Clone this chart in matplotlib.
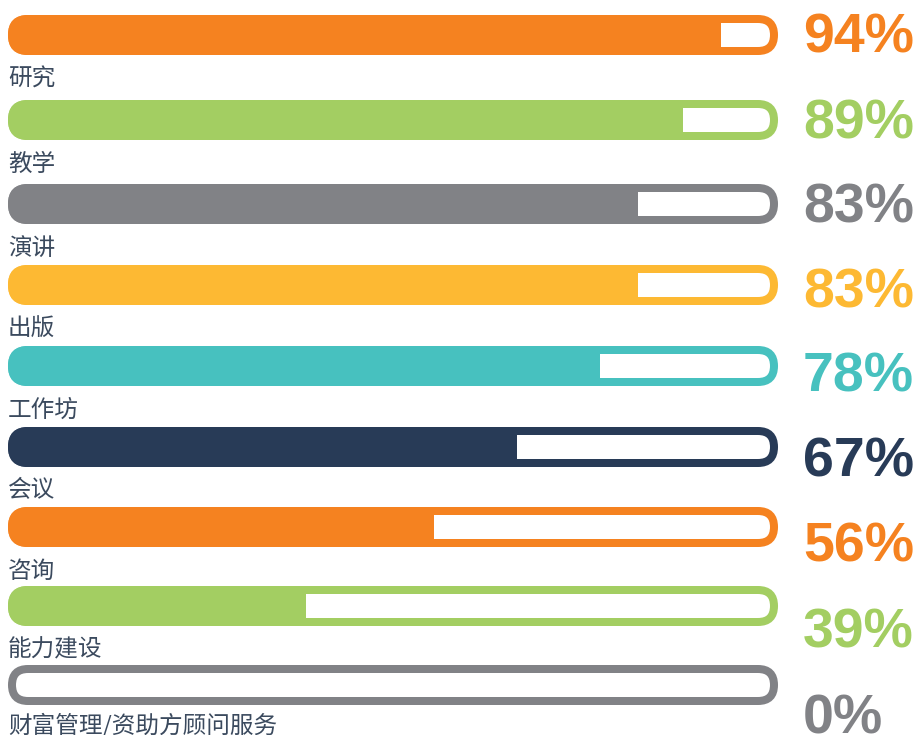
import matplotlib
matplotlib.use('Agg')
import matplotlib.pyplot as plt
from matplotlib.patches import FancyBboxPatch, Rectangle

plt.rcParams['font.family'] = ['Noto Sans CJK SC', 'DejaVu Sans']

# Share of respondents per activity
categories = ['研究', '教学', '演讲', '出版', '工作坊', '会议', '咨询', '能力建设', '财富管理/资助方顾问服务']
values = [94, 89, 83, 83, 78, 67, 56, 39, 0]
colors = ['#F58220', '#A3CE62', '#818286', '#FDB933', '#47C1BF',
          '#283B57', '#F58220', '#A3CE62', '#818286']

# layout in pixels (figure is 915 x 735 at 100 dpi)
W, H = 915, 735
bar_left, bar_right = 8, 778
bar_h = 40
stroke = 8
scale_left, scale_width = 12, 754
row_centers = [35, 120, 204, 285, 366, 447, 527, 606, 685]
pct_shift = [3, 4, 4, 8, 11, 15, 21, 27, 34]
label_shift = [44, 44, 44, 44, 44, 44, 44, 44, 40]

fig = plt.figure(figsize=(W / 100, H / 100), dpi=100)
ax = fig.add_axes([0, 0, 1, 1])
ax.set_xlim(0, W)
ax.set_ylim(H, 0)
ax.axis('off')

for i, (cat, val, col) in enumerate(zip(categories, values, colors)):
    yc = row_centers[i]
    top = yc - bar_h / 2

    # outlined track
    inset = stroke / 2
    track = FancyBboxPatch((bar_left + inset, top + inset),
                           bar_right - bar_left - stroke, bar_h - stroke,
                           boxstyle=f'round,pad=0,rounding_size={(bar_h - stroke) / 2}',
                           facecolor='white', edgecolor=col,
                           linewidth=stroke * 0.72, zorder=2)
    ax.add_patch(track)

    # filled part, clipped at the value
    fill_end = scale_left + val / 100 * scale_width
    if val > 0:
        fill = FancyBboxPatch((bar_left, top), bar_right - bar_left, bar_h,
                              boxstyle=f'round,pad=0,rounding_size={bar_h / 2}',
                              facecolor=col, edgecolor='none', zorder=3)
        ax.add_patch(fill)
        clip = Rectangle((bar_left, top - 1), fill_end - bar_left, bar_h + 2,
                         transform=ax.transData)
        fill.set_clip_path(clip)

    ax.text(bar_left, yc + label_shift[i], cat, fontsize=17, color='#3b4a5e',
            ha='left', va='center')
    ax.text(803, yc + pct_shift[i], f'{val}%', fontsize=40, fontweight='bold',
            color=col, ha='left', va='center', family='Liberation Sans')

fig.savefig('out.png', dpi=100)
